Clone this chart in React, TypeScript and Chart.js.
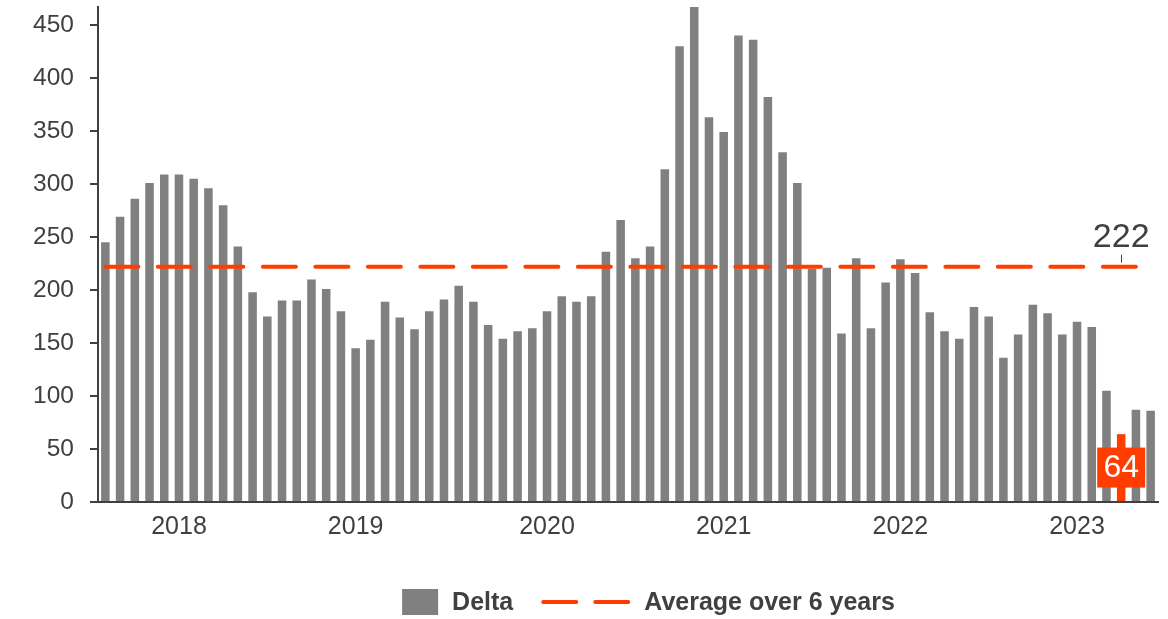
import React, { useEffect, useRef } from 'react';
import { Chart, registerables } from 'chart.js';

Chart.register(...registerables);

// ---- Data ----
const MONTHS = ['Jan', 'Feb', 'Mar', 'Apr', 'May', 'Jun', 'Jul', 'Aug', 'Sep', 'Oct', 'Nov', 'Dec'];
const START_YEAR = 2017;
const START_MONTH = 6; // July 2017
const COUNT = 72;
const categories: string[] = [];
for (let i = 0; i < COUNT; i++) {
  const m = START_MONTH + i;
  categories.push(`${MONTHS[m % 12]} ${START_YEAR + Math.floor(m / 12)}`);
}

const deltaValues: number[] = [
  245, 269, 286, 301, 309, 309, 305, 296, 280, 241,
  198, 175, 190, 190, 210, 201, 180, 145, 153, 189,
  174, 163, 180, 191, 204, 189, 167, 154, 161, 164,
  180, 194, 189, 194, 236, 266, 230, 241, 314, 430,
  467, 363, 349, 440, 436, 382, 330, 301, 220, 221,
  159, 230, 164, 207, 229, 216, 179, 161, 154, 184,
  175, 136, 158, 186, 178, 158, 170, 165, 105, 64,
  87, 86,
];

const AVERAGE = 222;
const averageValues: number[] = categories.map(() => AVERAGE);

const HIGHLIGHT_INDEX = 69;

// year tick labels placed under specific categories
const yearTickLabels: Record<number, string> = {
  5: '2018',
  17: '2019',
  30: '2020',
  42: '2021',
  54: '2022',
  66: '2023',
};

const yTicks: number[] = [0, 50, 100, 150, 200, 250, 300, 350, 400, 450];
const Y_MAX = 467;

const SERIES_NAMES = ['Delta', 'Average over 6 years'];

// ---- Styles ----
const GREY = '#808080';
const ORANGE = '#FF3D00';
const TEXT = '#404040';
const FONT = '"Liberation Sans", Arial, Helvetica, sans-serif';

const overlayPlugin = {
  id: 'overlay',
  afterDatasetsDraw(chart: any) {
    const ctx: CanvasRenderingContext2D = chart.ctx;
    const yScale = chart.scales.y;
    const barMeta = chart.getDatasetMeta(1);
    const bar = barMeta.data[HIGHLIGHT_INDEX];
    if (!bar) return;
    const yAvg = yScale.getPixelForValue(AVERAGE);
    ctx.save();
    // leader line + average label
    ctx.strokeStyle = TEXT;
    ctx.lineWidth = 1;
    ctx.beginPath();
    ctx.moveTo(Math.round(bar.x) + 0.5, yAvg - 12);
    ctx.lineTo(Math.round(bar.x) + 0.5, yAvg - 4);
    ctx.stroke();
    ctx.font = `34px ${FONT}`;
    ctx.fillStyle = TEXT;
    ctx.textAlign = 'center';
    ctx.textBaseline = 'alphabetic';
    ctx.fillText(String(AVERAGE), bar.x, yAvg - 20);

    // highlight value box
    const midY = (bar.y + bar.base) / 2;
    ctx.fillStyle = ORANGE;
    ctx.fillRect(bar.x - 24, midY - 20, 48, 40);
    ctx.fillStyle = '#ffffff';
    ctx.font = `32px ${FONT}`;
    ctx.textBaseline = 'middle';
    ctx.fillText(String(deltaValues[HIGHLIGHT_INDEX]), bar.x, midY + 1);
    ctx.restore();
  },
  afterDraw(chart: any) {
    const ctx: CanvasRenderingContext2D = chart.ctx;
    ctx.save();
    ctx.font = `bold 25px ${FONT}`;
    const w1 = ctx.measureText(SERIES_NAMES[0]).width;
    const w2 = ctx.measureText(SERIES_NAMES[1]).width;
    const total = 36 + 14 + w1 + 28 + 89 + 14 + w2;
    const cy = 602;
    let x = 648.5 - total / 2;
    ctx.fillStyle = GREY;
    ctx.fillRect(x, cy - 13, 36, 26);
    x += 36 + 14;
    ctx.fillStyle = TEXT;
    ctx.textAlign = 'left';
    ctx.textBaseline = 'middle';
    ctx.fillText(SERIES_NAMES[0], x, cy + 1);
    x += w1 + 28;
    ctx.strokeStyle = ORANGE;
    ctx.lineWidth = 4;
    ctx.lineCap = 'round';
    ctx.setLineDash([33, 19]);
    ctx.beginPath();
    ctx.moveTo(x + 2, cy);
    ctx.lineTo(x + 87, cy);
    ctx.stroke();
    ctx.setLineDash([]);
    x += 89 + 14;
    ctx.fillText(SERIES_NAMES[1], x, cy + 1);
    ctx.restore();
  },
};

export default function App() {
  const canvasRef = useRef<HTMLCanvasElement | null>(null);

  useEffect(() => {
    if (!canvasRef.current) return;
    Chart.defaults.font.family = FONT;
    const chart = new Chart(canvasRef.current, {
      type: 'bar',
      data: {
        labels: categories,
        datasets: [
          {
            type: 'line',
            label: SERIES_NAMES[1],
            data: averageValues,
            borderColor: ORANGE,
            borderWidth: 4,
            borderDash: [33, 19.5],
            borderCapStyle: 'round',
            pointRadius: 0,
            fill: false,
            order: 0,
          } as any,
          {
            type: 'bar',
            label: SERIES_NAMES[0],
            data: deltaValues,
            backgroundColor: deltaValues.map((_, i) => (i === HIGHLIGHT_INDEX ? ORANGE : GREY)),
            borderWidth: 0,
            barPercentage: 0.58,
            categoryPercentage: 1,
            order: 1,
          },
        ],
      },
      options: {
        animation: false,
        responsive: true,
        maintainAspectRatio: false,
        layout: { padding: { top: 7, right: 10, bottom: 77, left: 0 } },
        plugins: {
          legend: { display: false },
          tooltip: { enabled: false },
        },
        scales: {
          x: {
            offset: true,
            grid: { display: false, drawTicks: false },
            border: { display: true, color: TEXT, width: 2 },
            ticks: {
              autoSkip: false,
              maxRotation: 0,
              minRotation: 0,
              padding: 10,
              color: TEXT,
              font: { size: 25 },
              callback: (_v: any, i: number) => yearTickLabels[i] ?? '',
            },
            afterFit: (s: any) => {
              s.height = 40;
              s.paddingLeft = 0;
              s.paddingRight = 0;
            },
          },
          y: {
            min: 0,
            max: Y_MAX,
            grid: {
              drawOnChartArea: false,
              drawTicks: true,
              tickLength: 8,
              color: TEXT,
              lineWidth: 2,
            },
            border: { display: true, color: TEXT, width: 2 },
            ticks: {
              padding: 16,
              color: TEXT,
              font: { size: 24.5 },
            },
            afterBuildTicks: (axis: any) => {
              axis.ticks = yTicks.map((v) => ({ value: v }));
            },
            afterFit: (s: any) => {
              s.width = 98;
              s.paddingTop = 0;
              s.paddingBottom = 0;
            },
          },
        },
      },
      plugins: [overlayPlugin],
    });
    return () => chart.destroy();
  }, []);

  return (
    <div style={{ position: 'absolute', left: 0, top: 0, width: 1168, height: 619 }}>
      <canvas ref={canvasRef} />
    </div>
  );
}
